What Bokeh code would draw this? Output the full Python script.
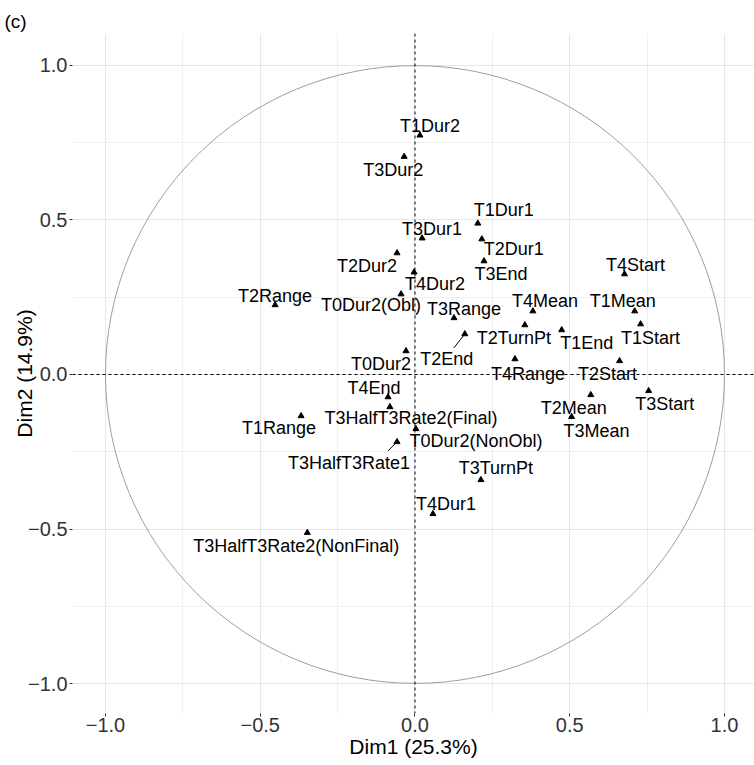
from bokeh.plotting import figure
from bokeh.models import ColumnDataSource, Span, FixedTicker, CustomJSTickFormatter, Range1d
from bokeh.core.properties import value
from bokeh.embed import file_html
from bokeh.resources import INLINE

# ---------------- data ----------------
variables = ["T1Dur2", "T3Dur2", "T1Dur1", "T3Dur1", "T2Dur1", "T3End", "T2Dur2", "T4Dur2",
             "T0Dur2(Obl)", "T2Range", "T3Range", "T4Start", "T4Mean", "T1Mean", "T2TurnPt",
             "T1End", "T1Start", "T2End", "T0Dur2", "T4Range", "T2Start", "T3Start", "T4End",
             "T2Mean", "T3Mean", "T3HalfT3Rate2(Final)", "T1Range", "T0Dur2(NonObl)",
             "T3HalfT3Rate1", "T3TurnPt", "T4Dur1", "T3HalfT3Rate2(NonFinal)"]
dim1 = [0.016, -0.035, 0.203, 0.023, 0.216, 0.223, -0.058, -0.003,
        -0.045, -0.452, 0.126, 0.677, 0.381, 0.710, 0.355,
        0.474, 0.729, 0.161, -0.029, 0.323, 0.661, 0.755, -0.087,
        0.568, 0.506, -0.081, -0.368, 0.003,
        -0.058, 0.213, 0.058, -0.348]
dim2 = [0.774, 0.705, 0.489, 0.441, 0.438, 0.367, 0.393, 0.331,
        0.260, 0.225, 0.183, 0.325, 0.205, 0.205, 0.160,
        0.144, 0.163, 0.131, 0.076, 0.050, 0.044, -0.053, -0.073,
        -0.066, -0.137, -0.105, -0.134, -0.176,
        -0.218, -0.341, -0.451, -0.512]
major_ticks = [-1.0, -0.5, 0.0, 0.5, 1.0]
minor_ticks = [-0.75, -0.25, 0.25, 0.75]
x_title = "Dim1 (25.3%)"
y_title = "Dim2 (14.9%)"
panel_tag = "(c)"

# ---------------- layout (label placement, screen px) ----------------
label_dx = [10, -11, 26, 10, 32, 17, -30, 21,
            -30, 0, 10, 11, 12, -12, -11,
            25, 10, -18, -25, 13, -12, 16, -14,
            -17, 25, 21, -22, 60,
            -48, 15, 13, -11]
label_dy = [-9, 13, -13, -9, 10, 13, 13, 12,
            11, -9, -9, -9, -10, -10, 13,
            13, 14, 25, 13, 15, 13, 13, -9,
            13, 14, 11, 12, 12,
            21, -12, -10, 13]
# leader segments: index -> end offset in px from the point
segments = {17: (-11, 14), 28: (-9, 9)}

FW, FH = 682, 680
X0, X1 = -1.1066, 1.097
Y0, Y1 = -1.097, 1.1034
sx = FW / (X1 - X0)
sy = FH / (Y1 - Y0)

p = figure(frame_width=FW, frame_height=FH, output_backend="svg", toolbar_location=None,
           x_range=Range1d(X0, X1), y_range=Range1d(Y0, Y1),
           min_border_left=72, min_border_right=0, min_border_top=33, min_border_bottom=0,
           background_fill_color="white", border_fill_color="white")
p.outline_line_color = None

p.title.text = panel_tag
p.title.align = "left"
p.title.offset = -68
p.title.text_font = "Liberation Sans"
p.title.text_font_size = "19px"
p.title.text_font_style = "normal"
p.title.text_color = "black"
p.title.standoff = 3

fmt = CustomJSTickFormatter(code="return (tick < -1e-9 ? '\u2212' : '') + Math.abs(tick).toFixed(1);")
for ax, title in ((p.xaxis, x_title), (p.yaxis, y_title)):
    ax.ticker = FixedTicker(ticks=major_ticks, minor_ticks=minor_ticks)
    ax.formatter = fmt
    ax.axis_label = title
    ax.axis_label_text_font = "Liberation Sans"
    ax.axis_label_text_font_size = "21px"
    ax.axis_label_text_font_style = "normal"
    ax.axis_label_text_color = "black"
    ax.major_label_text_font = "Liberation Sans"
    ax.major_label_text_font_size = "20px"
    ax.major_label_text_color = "#333333"
    ax.axis_line_color = None
    ax.major_tick_out = 3
    ax.major_tick_in = 0
    ax.major_tick_line_color = "#333333"
    ax.minor_tick_out = 0
    ax.minor_tick_in = 0
p.xaxis.major_label_standoff = 1
p.xaxis.axis_label_standoff = 0
p.yaxis.major_label_standoff = 2
p.yaxis.axis_label_standoff = -11

for g in (p.xgrid, p.ygrid):
    g.grid_line_color = "#e6e6e6"
    g.grid_line_width = 1
    g.minor_grid_line_color = "#efefef"
    g.minor_grid_line_width = 1

# correlation circle
p.ellipse(x=[0], y=[0], width=2, height=2, fill_color=None, line_color="#9e9e9e", line_width=1)

p.add_layout(Span(location=0, dimension="height", line_color="black", line_dash="3 3", line_width=1))
p.add_layout(Span(location=0, dimension="width", line_color="black", line_dash="3 3", line_width=1))

src = ColumnDataSource(dict(x=dim1, y=dim2, name=variables, dx=label_dx, dy=label_dy))

seg_x0 = [dim1[i] for i in segments]
seg_y0 = [dim2[i] for i in segments]
seg_x1 = [dim1[i] + segments[i][0] / sx for i in segments]
seg_y1 = [dim2[i] - segments[i][1] / sy for i in segments]
p.segment(x0=seg_x0, y0=seg_y0, x1=seg_x1, y1=seg_y1, line_color="black", line_width=1)

p.scatter(x="x", y="y", source=src, marker="triangle", size=6, color="black")
p.text(x="x", y="y", text="name", source=src, x_offset="dx", y_offset="dy",
       text_align="center", text_baseline="middle", text_font=value("Liberation Sans"),
       text_font_size="18px", text_color="black")

open("out.html", "w").write(file_html(p, INLINE))
